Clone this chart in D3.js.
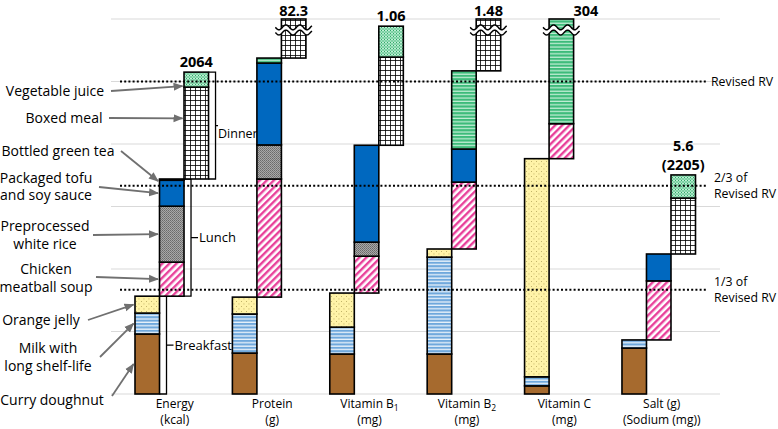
<!DOCTYPE html>
<html><head><meta charset="utf-8">
<script src="https://cdn.jsdelivr.net/npm/d3@7/dist/d3.min.js"></script>
<style>
body{margin:0;background:#fff;}
svg{display:block;font-family:"Open Sans","Noto Sans",sans-serif;}
</style></head>
<body>
<svg id="c" width="778" height="429"></svg>
<script>
// ---------- data ----------
const nutrients = ["Energy","Protein","Vitamin B1","Vitamin B2","Vitamin C","Salt"];
const axisLine1 = ["Energy","Protein","Vitamin B|1","Vitamin B|2","Vitamin C","Salt (g)"];
const axisLine2 = ["(kcal)","(g)","(mg)","(mg)","(mg)","(Sodium (mg))"];
const topLabels = [["2064"],["82.3"],["1.06"],["1.48"],["304"],["5.6","(2205)"]];
const meals = ["Breakfast","Lunch","Dinner"];
const foods = ["Curry doughnut","Milk with long shelf-life","Orange jelly","Chicken meatball soup",
  "Preprocessed white rice","Packaged tofu and soy sauce","Bottled green tea","Boxed meal","Vegetable juice"];
const foodMeal = ["Breakfast","Breakfast","Breakfast","Lunch","Lunch","Lunch","Lunch","Dinner","Dinner"];
// intake as fraction of the revised reference value (RV), order = nutrients
const curryDoughnut = [0.192,0.131,0.128,0.128,0.026,0.147];
const milkLongLife  = [0.067,0.125,0.086,0.310,0.029,0.026];
const orangeJelly   = [0.054,0.054,0.109,0.026,0.698,0.000];
const chickenSoup   = [0.109,0.378,0.118,0.214,0.112,0.189];
const whiteRice     = [0.179,0.109,0.045,0.000,0.000,0.000];
const tofuSoy       = [0.083,0.262,0.310,0.106,0.000,0.086];
const greenTea      = [0.004,0.016,0.000,0.250,1.800,0.000];
const boxedMeal     = [0.294,0.170,0.282,0.180,0.150,0.179];
const vegJuice      = [0.048,0.020,0.099,0.020,0.225,0.074];
const foodValues = [curryDoughnut,milkLongLife,orangeJelly,chickenSoup,whiteRice,tofuSoy,greenTea,boxedMeal,vegJuice];
const refLines = [1, 2/3, 1/3];
const refLabels = [["Revised RV"],["2/3 of","Revised RV"],["1/3 of","Revised RV"]];
const legendLines = [["Curry doughnut"],["Milk with","long shelf-life"],["Orange jelly"],["Chicken","meatball soup"],
  ["Preprocessed","white rice"],["Packaged tofu","and soy sauce"],["Bottled green tea"],["Boxed meal"],["Vegetable juice"]];

// ---------- layout ----------
const svg = d3.select("#c");
const yMax = 1.2;
const y = d3.scaleLinear().domain([0, yMax]).range([394, 19]);
const x = d3.scaleBand().domain(nutrients).range([135, 695.5]).paddingInner(0.245).paddingOuter(0);
const xm = d3.scaleBand().domain(meals).range([0, x.bandwidth()]).padding(0);
const foodIds = ["dough","milk","jelly","soup","rice","tofu","tea","boxed","veg"];

// ---------- patterns ----------
const defs = svg.append("defs");
function pat(id,w,h,bg){const p=defs.append("pattern").attr("id",id).attr("patternUnits","userSpaceOnUse").attr("width",w).attr("height",h);
  p.append("rect").attr("width",w).attr("height",h).attr("fill",bg);return p;}
pat("dough",4,4,"#A66A2E");
let p = pat("milk",4,3.4,"#EAF3FB"); p.append("rect").attr("width",4).attr("height",2.1).attr("fill","#6FA8DC");
p = pat("jelly",5,5,"#FFF3A8"); p.append("rect").attr("x",1).attr("y",1).attr("width",0.9).attr("height",0.9).attr("fill","#B4A55A");
p.append("rect").attr("x",3.5).attr("y",3.5).attr("width",0.9).attr("height",0.9).attr("fill","#B4A55A");
p = pat("soup",5,5,"#ffffff"); p.attr("patternTransform","rotate(45)"); p.append("rect").attr("width",2.4).attr("height",5).attr("fill","#E8409A");
p = pat("rice",2,2,"#A8A8A8"); p.append("rect").attr("width",1).attr("height",1).attr("fill","#6A6A6A");
p.append("rect").attr("x",1).attr("y",1).attr("width",1).attr("height",1).attr("fill","#7A7A7A");
pat("tofu",4,4,"#0068BF");
p = pat("tea",4,3.4,"#C6EFD8"); p.append("rect").attr("width",4).attr("height",2.2).attr("fill","#3DBB7A");
p = pat("boxed",5,5,"#ffffff"); p.append("path").attr("d","M0 0.4H5M0.4 0V5").attr("stroke","#000").attr("stroke-width",0.9);
p = pat("veg",3,3,"#9BE0BC"); p.append("rect").attr("width",1).attr("height",1).attr("fill","#2FA866");
p.append("rect").attr("x",1.5).attr("y",1.5).attr("width",1).attr("height",1).attr("fill","#2FA866");
p.append("rect").attr("x",1.5).attr("y",0).attr("width",1).attr("height",1).attr("fill","#E8FFF2");
const am = defs.append("marker").attr("id","arr").attr("markerUnits","userSpaceOnUse").attr("markerWidth",10).attr("markerHeight",10)
  .attr("viewBox","0 0 10 10").attr("refX",9).attr("refY",5).attr("orient","auto");
am.append("path").attr("d","M0,1 L10,5 L0,9 Z").attr("fill","#707070");

// ---------- gridlines ----------
svg.append("g").selectAll("line").data(d3.range(0, yMax + 0.001, 0.2)).join("line")
  .attr("x1",111).attr("x2",720).attr("y1",d=>y(d)).attr("y2",d=>y(d)).attr("stroke","#D9D9D9").attr("stroke-width",1);

// ---------- segments ----------
const segs = [];
const cols = [];
nutrients.forEach((n,ni)=>{
  let cum = 0;
  meals.forEach(m=>{
    const bottom = cum;
    foods.forEach((f,fi)=>{
      if(foodMeal[fi]!==m) return;
      const v = foodValues[fi][ni];
      if(v>0) segs.push({n,m,fi,y0:cum,y1:cum+v});
      cum += v;
    });
    cols.push({n,ni,m,y0:bottom,y1:cum});
  });
});
const E = nutrients[0];
const energyCols = cols.filter(c=>c.n===E);

// meal brackets (drawn under bars)
const brG = svg.append("g");
energyCols.forEach((c,i)=>{
  const xr = x(E)+xm(c.m)+xm.bandwidth();
  const isD = c.m==="Dinner";
  const bx = xr+7, yt=y(c.y1), yb=y(c.y0), ymid=(yt+yb)/2;
  const notch = isD ? 2.5 : 7;
  brG.append("path").attr("d",`M${xr},${yt}H${bx}V${yb}H${xr}M${bx},${ymid}H${bx+notch}`)
    .attr("fill","none").attr("stroke","#000").attr("stroke-width",1.3);
  brG.append("text").attr("x",bx+notch+(isD?0:1)).attr("y",ymid + (isD?8:0)).attr("dy","0.35em")
    .attr("font-size",isD?12.5:13).text(c.m);
});

svg.append("g").selectAll("rect").data(segs.filter(s=>s.y0<yMax)).join("rect")
  .attr("x",s=>x(s.n)+xm(s.m)).attr("width",xm.bandwidth())
  .attr("y",s=>y(Math.min(s.y1,yMax))).attr("height",s=>y(s.y0)-y(Math.min(s.y1,yMax)))
  .attr("fill",s=>`url(#${foodIds[s.fi]})`).attr("stroke","#000").attr("stroke-width",1.6);

// break markers
const breakV = 1.165;
cols.filter(c=>c.y0<yMax && c.y1>yMax).forEach(c=>{
  const x0 = x(c.n)+xm(c.m)-6, x1 = x0+xm.bandwidth()+12, yc=y(breakV);
  const xs = d3.range(x0, x1+0.01, 0.5);
  const wave = (off)=>xs.map(xx=>[xx, yc+off+2.4*Math.sin((xx-x0)/14*2*Math.PI)]);
  const up = wave(-2.6), lo = wave(2.6);
  const line = d3.line();
  svg.append("path").attr("d", line(up.concat(lo.slice().reverse()))+"Z").attr("fill","#fff").attr("stroke","none");
  svg.append("path").attr("d",line(up)).attr("fill","none").attr("stroke","#000").attr("stroke-width",1.5);
  svg.append("path").attr("d",line(lo)).attr("fill","none").attr("stroke","#000").attr("stroke-width",1.5);
});

// ---------- reference dotted lines ----------
const rg = svg.append("g");
refLines.forEach((r,i)=>{
  rg.append("line").attr("x1",120).attr("x2",708).attr("y1",y(r)).attr("y2",y(r))
    .attr("stroke","#000").attr("stroke-width",2).attr("stroke-dasharray","2 2.2");
  const lines = refLabels[i];
  const lx = i===0 ? 711 : 714;
  const t = rg.append("text").attr("x", lx).attr("font-size",12.3);
  lines.forEach((l,j)=>t.append("tspan").attr("x",lx)
    .attr("y", y(r) + (j - (lines.length-1)/2)*16.5).attr("dy","0.35em").text(l));
});

// ---------- top labels ----------
nutrients.forEach((n,ni)=>{
  const dc = cols.find(c=>c.n===n && c.m==="Dinner");
  const topY = dc.y1>yMax ? y(yMax)-3 : y(dc.y1)-5;
  const cx = x(n)+xm("Dinner")+xm.bandwidth()/2;
  const L = topLabels[ni];
  L.forEach((l,j)=>svg.append("text").attr("x",cx).attr("y",topY-(L.length-1-j)*19)
    .attr("text-anchor","middle").attr("font-size",14.5).attr("font-weight","bold").text(l));
});

// ---------- axis labels ----------
const axG = svg.append("g");
nutrients.forEach((n,ni)=>{
  const cx = x(n)+x.bandwidth()/2+3;
  const t1 = axG.append("text").attr("x",cx).attr("y",404).attr("dy","0.35em").attr("text-anchor","middle").attr("font-size",12);
  const parts = axisLine1[ni].split("|");
  t1.append("tspan").text(parts[0]);
  if(parts[1]) t1.append("tspan").attr("font-size",8.5).attr("dy","0.3em").text(parts[1]);
  axG.append("text").attr("x",cx).attr("y",420).attr("dy","0.35em").attr("text-anchor","middle").attr("font-size",12).text(axisLine2[ni]);
});

// ---------- legend labels with arrows (pointing to the Energy bar) ----------
const legCx   = [52,48,41,46,45,46,58,64,55];
const legY    = [400,357,320,278,235,186.5,151,118,91];
const arrX0   = [112,100,88,96,93,99,121,109,111];
const arrY0   = [396,357,320,277,235,187,151,118,91];
const arrAt   = [0.5,0.5,0.5,0.5,0.5,0.5,1.6,0.34,0.93];
const lg = svg.append("g");
foods.forEach((f,fi)=>{
  const lines = legendLines[fi];
  const t = lg.append("text").attr("text-anchor","middle").attr("font-size",14);
  lines.forEach((l,j)=>t.append("tspan").attr("x",legCx[fi]).attr("y",legY[fi]+(j-(lines.length-1)/2)*17.5).attr("dy","0.35em").text(l));
  const s = segs.find(s=>s.n===E && s.fi===fi);
  const tx = x(E)+xm(foodMeal[fi])-1.5;
  const ty = y(s.y1) + (y(s.y0)-y(s.y1))*arrAt[fi];
  lg.append("line").attr("x1",arrX0[fi]).attr("y1",arrY0[fi]).attr("x2",tx).attr("y2",ty)
    .attr("stroke","#707070").attr("stroke-width",1.8).attr("marker-end","url(#arr)");
});
</script>
</body></html>
